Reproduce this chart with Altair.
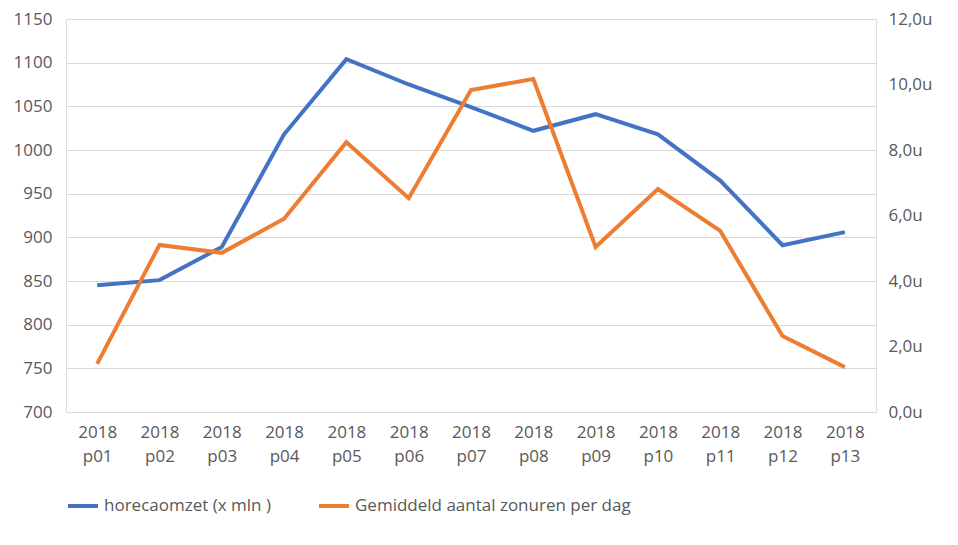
import altair as alt
import pandas as pd

periods = ["2018 p01", "2018 p02", "2018 p03", "2018 p04", "2018 p05", "2018 p06", "2018 p07",
           "2018 p08", "2018 p09", "2018 p10", "2018 p11", "2018 p12", "2018 p13"]
omzet = [845, 851, 889, 1018, 1104, 1075, 1049, 1022, 1041, 1018, 965, 891, 906]
zonuren = [1.47, 5.1, 4.86, 5.9, 8.24, 6.53, 9.83, 10.17, 5.04, 6.81, 5.53, 2.32, 1.37]

s1 = "horecaomzet (x mln )"
s2 = "Gemiddeld aantal zonuren per dag"

df1 = pd.DataFrame({"periode": periods, "waarde": omzet, "serie": s1})
df2 = pd.DataFrame({"periode": periods, "waarde": zonuren, "serie": s2})

font = "Open Sans"
grey = "#595959"

x = alt.X("periode:O", sort=None, title=None,
          axis=alt.Axis(labelAngle=0, labelExpr="split(datum.label, ' ')", ticks=False,
                        domainColor="#d9d9d9", labelPadding=12, labelFontSize=17,
                        labelFont=font, labelColor=grey, labelLineHeight=24))
color = alt.Color("serie:N", scale=alt.Scale(domain=[s1, s2], range=["#4472c4", "#ed7d31"]),
                  legend=alt.Legend(orient="bottom", title=None, symbolType="stroke",
                                    symbolStrokeWidth=4, symbolSize=900, labelFontSize=17,
                                    labelFont=font, labelColor=grey, labelLimit=500,
                                    columnPadding=40, offset=25))

left = alt.Chart(df1).mark_line(strokeWidth=4).encode(
    x=x,
    y=alt.Y("waarde:Q", title=None, scale=alt.Scale(domain=[700, 1150]),
            axis=alt.Axis(values=list(range(700, 1151, 50)), format="d", domain=False,
                          ticks=False, gridColor="#d9d9d9", labelFontSize=17, labelPadding=14,
                          labelFont=font, labelColor=grey)),
    color=color,
)
right = alt.Chart(df2).mark_line(strokeWidth=4).encode(
    x=x,
    y=alt.Y("waarde:Q", title=None, scale=alt.Scale(domain=[0, 12]),
            axis=alt.Axis(orient="right", values=[0, 2, 4, 6, 8, 10, 12], grid=False,
                          domain=False, ticks=False, labelFontSize=17, labelPadding=12,
                          labelFont=font, labelColor=grey,
                          labelExpr="replace(format(datum.value, '.1f'), '.', ',') + 'u'")),
    color=color,
)

chart = alt.layer(left, right).resolve_scale(y="independent").properties(
    width=810, height=393
).configure_view(stroke=None).configure(
    padding={"left": 5, "top": 2, "right": 5, "bottom": 5}
)

chart.save("out.html", embed_options={"renderer": "svg", "actions": False})
